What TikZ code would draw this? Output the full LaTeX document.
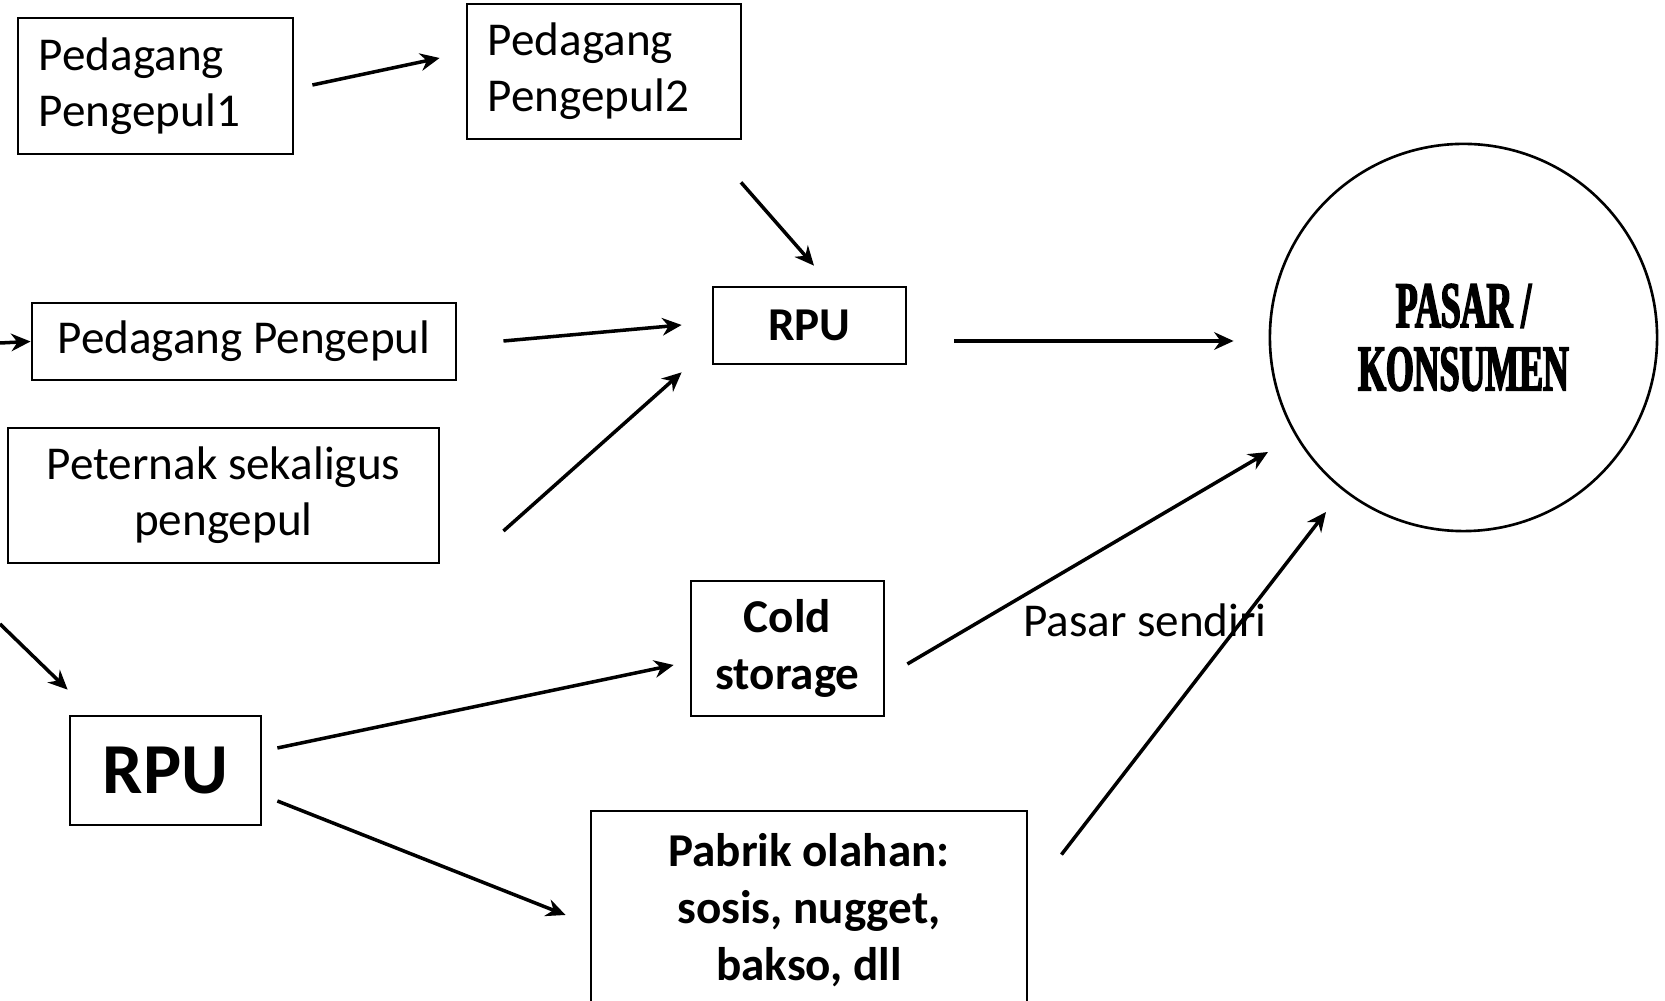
\documentclass[tikz,border=0pt]{standalone}
\usepackage{fontspec}
\setmainfont{Carlito}
\newfontfamily\heavyfont[FakeStretch=0.55,FakeBold=2.5]{Liberation Serif}
\usetikzlibrary{arrows.meta,calc}
\begin{document}
\begin{tikzpicture}[x=0.01cm,y=-0.01cm,
  box/.style={draw, line width=0.75pt, inner sep=0pt, font=\fontsize{13.4}{16}\selectfont},
  lbox/.style={box, align=left, inner xsep=0.21cm},
  cbox/.style={box, align=center},
  bbox/.style={box, align=center, font=\fontsize{13.4}{16.2}\selectfont\bfseries},
  arr/.style={-{Stealth[length=5.5pt,width=5pt]}, line width=1pt}]
\useasboundingbox (0,0) rectangle (1665,1001);

\node[lbox, text width=2.33cm, minimum height=1.36cm] (pp1) at (155.5,86) {Pedagang\\Pengepul1};
\node[lbox, text width=2.32cm, minimum height=1.35cm] (pp2) at (604,71.5) {Pedagang\\Pengepul2};
\node[cbox, minimum width=4.24cm, minimum height=0.77cm] (pp) at (244,341.5) {Pedagang Pengepul};
\node[cbox, minimum width=4.31cm, minimum height=1.35cm] (pet) at (223.5,495.5) {Peternak sekaligus\\pengepul};
\node[bbox, minimum width=1.93cm, minimum height=0.77cm] (rpu1) at (809.5,325.5) {RPU};
\node[bbox, minimum width=1.93cm, minimum height=1.35cm] (cold) at (787.5,648.5) {Cold\\storage};
\node[box, minimum width=1.91cm, minimum height=1.09cm, font=\fontsize{20.4}{24}\selectfont\bfseries] (rpu2) at (165.5,770.5) {RPU};
\node[bbox, minimum width=4.36cm, minimum height=1.98cm] (pabrik) at (809,910) {Pabrik olahan:\\sosis, nugget,\\bakso, dll};
\node[draw, circle, line width=0.75pt, minimum size=3.87cm, inner sep=0pt, align=center,
      font=\fontsize{18.5}{18}\heavyfont\bfseries] (pasar) at (1463.5,337.5) {PASAR /\\KONSUMEN};
\node[font=\fontsize{13.4}{16}\selectfont] (ps) at (1145,620) {Pasar sendiri};

\coordinate (in1) at (0,343);
\coordinate (in2) at (0,624);

\draw[arr] ($(pp1.east)+(18,-1)$) -- ($(pp2.west)+(-26,-13.5)$);
\draw[arr] ($(pp2.south)+(137,42)$) -- ($(rpu1.north)+(4.5,-20)$);
\draw[arr] (in1) -- (pp.west);
\draw[arr] ($(pp.east)+(46,-0.5)$) -- ($(rpu1.west)+(-30,-0.5)$);
\draw[arr] ($(pet.east)+(63,35.5)$) -- ($(rpu1.south west)+(-30,7)$);
\draw[arr] (in2) -- ($(rpu2.north west)+(-1,-25)$);
\draw[arr] ($(rpu1.east)+(47,15.5)$) -- ($(pasar.west)+(-35,3.5)$);
\draw[arr] ($(cold.east)+(22,15.5)$) -- ($(pasar.center)+(-195.5,114.5)$);
\draw[arr] ($(pabrik.north east)+(33,45)$) -- ($(pasar.center)+(-137.5,174.5)$);
\draw[arr] ($(rpu2.east)+(15,-22.5)$) -- ($(cold.west)+(-16,16.5)$);
\draw[arr] ($(rpu2.east)+(15,30.5)$) -- ($(pabrik.west)+(-24,5)$);
\end{tikzpicture}
\end{document}
